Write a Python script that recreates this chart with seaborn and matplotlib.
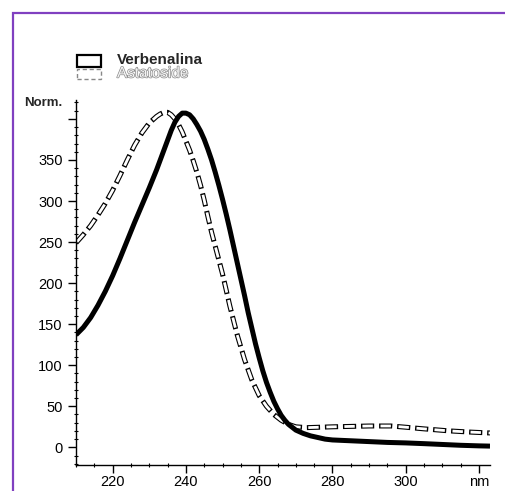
import matplotlib
matplotlib.use("Agg")
import matplotlib.pyplot as plt
import matplotlib.patheffects as pe
from matplotlib.patches import Rectangle
import numpy as np
import pandas as pd
import seaborn as sns

# Absorption spectra (normalised units) vs wavelength in nm
verb_nm = [210, 212, 214, 216, 218, 220, 222, 224, 226, 228, 230, 232, 234,
           235, 236, 237, 238, 239, 240, 241, 242, 243, 244, 245, 246, 247,
           248, 249, 250, 251, 252, 253, 254, 255, 256, 257, 258, 259, 260,
           261, 262, 263, 264, 265, 266, 267, 268, 270, 272, 274, 276, 278,
           280, 285, 290, 295, 300, 305, 310, 315, 320, 323]
verb_val = [137, 146, 158, 173, 190, 209, 230, 252, 274, 295, 316, 338, 362,
            374, 386, 396, 403, 407, 407, 405, 400, 393, 385, 375, 363, 350,
            335, 319, 302, 284, 265, 245, 225, 205, 185, 164, 145, 126, 109,
            93, 79, 67, 56, 47, 39, 33, 28, 21, 17, 14, 12, 10,
            9, 8, 7, 6, 5.4, 4.5, 3.5, 2.5, 1.8, 1.5]

asta_nm = [210, 212, 214, 216, 218, 220, 222, 224, 226, 228, 230, 232, 233,
           234, 235, 236, 237, 238, 239, 240, 241, 242, 243, 244, 245, 246,
           247, 248, 249, 250, 252, 254, 256, 258, 260, 262, 264, 266, 268,
           270, 273, 280, 290, 296, 300, 305, 312, 318, 323]
asta_val = [249, 259, 270, 283, 297, 313, 331, 350, 368, 383, 395, 403, 406,
            408, 408, 405, 400, 393, 384, 373, 362, 349, 335, 319, 301, 281,
            262, 245, 228, 211, 172, 137, 107, 82, 63, 50, 40, 33, 28,
            25, 24, 25, 26, 26, 24.5, 22.5, 20, 18.5, 17.5]

x_ticks = [220, 240, 260, 280, 300, 320]
x_tick_labels = ["220", "240", "260", "280", "300", "nm"]
y_ticks = [0, 50, 100, 150, 200, 250, 300, 350, 400]
y_tick_labels = ["0", "50", "100", "150", "200", "250", "300", "350", ""]

sns.set_theme(style="ticks")
plt.rcParams["font.family"] = ["Liberation Sans", "DejaVu Sans"]
plt.rcParams["lines.scale_dashes"] = False

verb = pd.DataFrame({"nm": verb_nm, "val": verb_val})
asta = pd.DataFrame({"nm": asta_nm, "val": asta_val})

fig = plt.figure(figsize=(5.05, 4.91), dpi=100)
ax = fig.add_axes([76 / 505, 1 - 465 / 491, (490 - 76) / 505, (465 - 100) / 491])

# Hollow dashed trace: black dashes with a white core
sns.lineplot(data=asta, x="nm", y="val", ax=ax, color="black", lw=3.6,
             linestyle=(0, (9.5, 3.5)), estimator=None, sort=True)
sns.lineplot(data=asta, x="nm", y="val", ax=ax, color="white", lw=2.0,
             linestyle=(12, (7.5, 5.5)), estimator=None, sort=True)
sns.lineplot(data=verb, x="nm", y="val", ax=ax, color="black", lw=3.6,
             estimator=None, sort=True, solid_capstyle="butt")

ax.set_xlim(210, 323)
ax.set_ylim(-21.5, 423)
ax.set_xlabel("")
ax.set_ylabel("")

ax.set_xticks(x_ticks)
ax.set_xticklabels(x_tick_labels)
ax.set_xticks(np.arange(210, 324, 5), minor=True)
ax.set_yticks(y_ticks)
ax.set_yticklabels(y_tick_labels)
ax.set_yticks(np.arange(-20, 421, 10), minor=True)

ax.tick_params(axis="both", which="major", length=5.5, width=1, color="black",
               labelsize=10.5, labelcolor="black")
ax.tick_params(axis="x", which="major", pad=1.5)
ax.tick_params(axis="y", which="major", pad=4)
ax.tick_params(axis="both", which="minor", length=3, width=0.8,
               direction="inout", color="black")
sns.despine(ax=ax)
for s in ("left", "bottom"):
    ax.spines[s].set_color("black")
    ax.spines[s].set_linewidth(1)

fig.text(62 / 505, 1 - 103 / 491, "Norm.", ha="right", va="center",
         fontsize=9.5, fontweight="bold")

# Key boxes
fig.patches.append(Rectangle((77 / 505, 1 - 66.5 / 491), 24 / 505, 11 / 491,
                             transform=fig.transFigure, fill=False,
                             edgecolor="black", lw=1.6))
fig.patches.append(Rectangle((77 / 505, 1 - 79 / 491), 24 / 505, 10 / 491,
                             transform=fig.transFigure, fill=False,
                             edgecolor="#888888", lw=1.0, linestyle=(0, (3, 2))))
fig.text(117 / 505, 1 - 60.5 / 491, "Verbenalina", ha="left", va="center",
         fontsize=11, fontweight="bold")
fig.text(117 / 505, 1 - 73.5 / 491, "Astatoside", ha="left", va="center",
         fontsize=11, color="#f4f4f4",
         path_effects=[pe.Stroke(linewidth=1.0, foreground="#8a8a8a"), pe.Normal()])

# Purple frame
fig.patches.append(Rectangle((13 / 505, -0.1), 2, 1.1 - 13 / 491,
                             transform=fig.transFigure, fill=False,
                             edgecolor="#8040c0", lw=1.6))

fig.savefig("out.png", dpi=100)
